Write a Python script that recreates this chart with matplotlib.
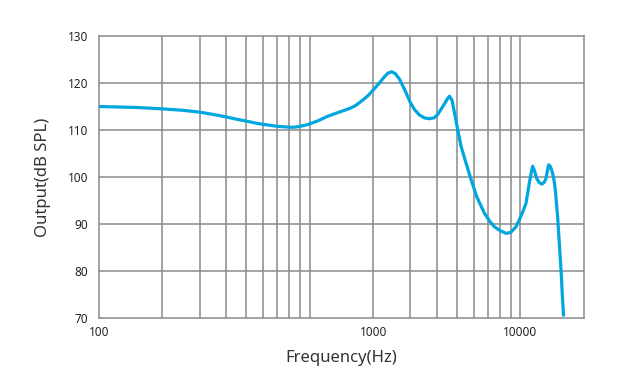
import numpy as np
import matplotlib
matplotlib.use("Agg")
import matplotlib.pyplot as plt

# frequency response (Hz, dB SPL)
freq = [100, 150, 200, 250, 300, 350, 400, 450, 500, 550, 600, 650, 700, 750,
        800, 850, 900, 950, 1000, 1100, 1200, 1300, 1400, 1550, 1650, 1790,
        1900, 2000, 2150, 2250, 2350, 2450, 2550, 2670, 2850, 3000, 3150,
        3320, 3500, 3700, 3900, 4050, 4200, 4370, 4500, 4610, 4740, 4870,
        5045, 5240, 5530, 5840, 6210, 6750, 7150, 7530, 8000, 8550, 9000,
        9540, 9890, 10250, 10640, 11030, 11250, 11440, 11700, 11950, 12300,
        12670, 13000, 13240, 13450, 13620, 13900, 14230, 14450, 14660,
        15030, 15310, 15600, 15870, 16040]
spl = [115.0, 114.8, 114.5, 114.2, 113.8, 113.3, 112.8, 112.3, 111.9, 111.5,
       111.2, 111.0, 110.8, 110.7, 110.6, 110.6, 110.8, 111.0, 111.3, 112.0,
       112.8, 113.4, 113.9, 114.6, 115.2, 116.4, 117.4, 118.5, 120.1, 121.2,
       122.1, 122.4, 122.0, 120.8, 118.2, 115.9, 114.3, 113.2, 112.6, 112.4,
       112.6, 113.3, 114.4, 115.6, 116.6, 117.2, 116.3, 113.6, 110.0, 106.4,
       102.9, 99.4, 95.8, 92.3, 90.6, 89.4, 88.6, 88.0, 88.2, 89.4, 90.9,
       92.5, 94.4, 98.7, 100.8, 102.3, 101.2, 99.7, 98.8, 98.5, 98.9, 99.7,
       101.4, 102.6, 102.2, 100.8, 99.3, 97.2, 91.5, 85.9, 80.2, 73.8, 70.3]

grid_freqs = [200, 300, 400, 500, 600, 700, 800, 900, 1000,
              2000, 3000, 4000, 5000, 6000, 7000, 8000, 9000, 10000]
xtick_pos = [100, 2000, 10000]
xtick_labels = ["100", "1000", "10000"]
yticks = [70, 80, 90, 100, 110, 120, 130]

plt.rcParams["font.family"] = ["Noto Sans", "DejaVu Sans"]

fig = plt.figure(figsize=(6.23, 3.92), dpi=100)
ax = fig.add_axes([0.159, 0.189, 0.778, 0.719])

grid_col = "#8a8a8a"
ax.set_xscale("log")
ax.set_xlim(100, 20000)
ax.set_ylim(70, 130)

for f in grid_freqs:
    ax.axvline(f, color=grid_col, lw=1.1, zorder=1)
for v in yticks[1:-1]:
    ax.axhline(v, color=grid_col, lw=1.1, zorder=1)

ax.plot(freq, spl, color="#00a6de", lw=2.3, solid_capstyle="butt",
        solid_joinstyle="round", zorder=3)

ax.set_xticks(xtick_pos)
ax.set_xticklabels(xtick_labels)
ax.xaxis.set_minor_locator(matplotlib.ticker.NullLocator())
ax.set_yticks(yticks)
ax.tick_params(length=0, labelsize=8.5, colors="#222222", pad=8)
ax.tick_params(axis="x", pad=6)

for s in ax.spines.values():
    s.set_color(grid_col)
    s.set_linewidth(1.1)

ax.set_xlabel("Frequency(Hz)", fontsize=12, color="#333333", labelpad=8)
ax.set_ylabel("Output(dB SPL)", fontsize=12, color="#333333", labelpad=12)

fig.savefig("out.png", dpi=100)
